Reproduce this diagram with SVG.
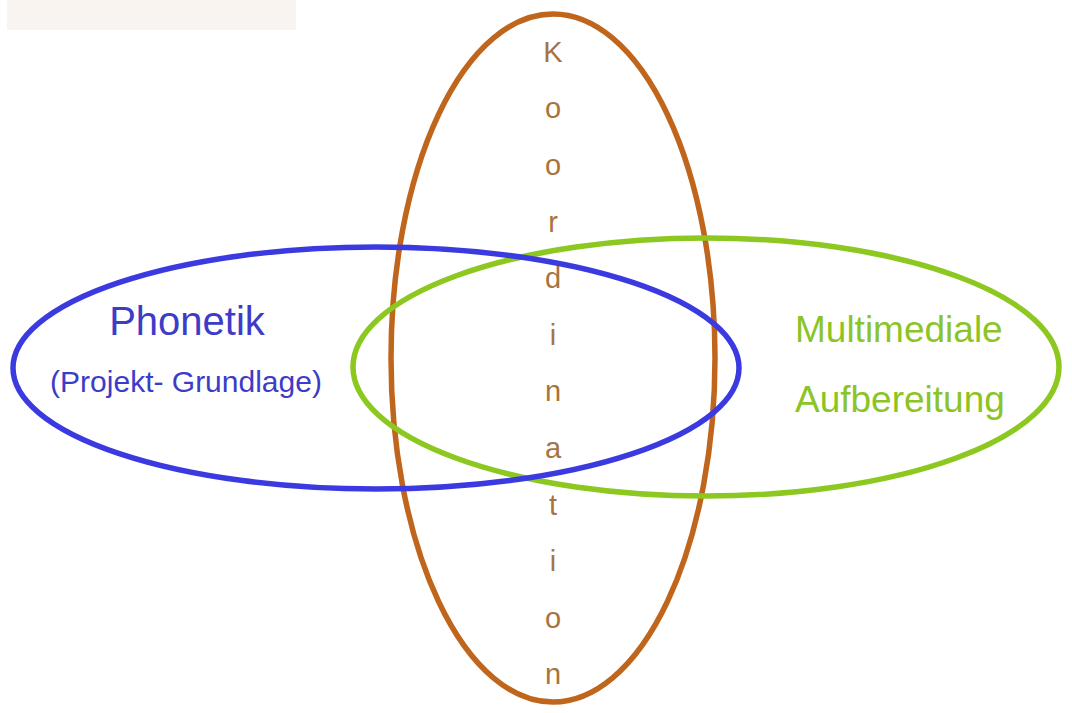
<svg xmlns="http://www.w3.org/2000/svg" width="1072" height="713" viewBox="0 0 1072 713">
<style>
.e{fill:none;stroke-width:5.5}
.k{font-family:"Liberation Sans",Arial,sans-serif;font-size:29px;fill:#a8733f;text-anchor:middle}
.ph{font-family:"Liberation Sans",Arial,sans-serif;fill:#3c3cc8;text-anchor:middle}
.mm{font-family:"Liberation Sans",Arial,sans-serif;font-size:37px;fill:#8cc428}
</style>
<rect width="1072" height="713" fill="#ffffff"/>
<rect x="7" y="0" width="289" height="30" fill="#faf4f1"/>
<g id="koordination">
<ellipse class="e" cx="553" cy="358" rx="162" ry="344" stroke="#c0661c"/>
<text class="k" x="553" y="62">K</text>
<text class="k" x="553" y="118">o</text>
<text class="k" x="553" y="175">o</text>
<text class="k" x="553" y="232">r</text>
<text class="k" x="553" y="288">d</text>
<text class="k" x="553" y="345">i</text>
<text class="k" x="553" y="401">n</text>
<text class="k" x="553" y="458">a</text>
<text class="k" x="553" y="515">t</text>
<text class="k" x="553" y="571">i</text>
<text class="k" x="553" y="628">o</text>
<text class="k" x="553" y="684">n</text>
</g>
<g id="multimedia">
<ellipse class="e" cx="706" cy="367" rx="353" ry="129" stroke="#8cc820"/>
<text class="mm" x="795" y="342">Multimediale</text>
<text class="mm" x="795" y="412">Aufbereitung</text>
</g>
<g id="phonetik">
<ellipse class="e" cx="376" cy="368" rx="363" ry="121" stroke="#3a3ae0"/>
<text class="ph" x="187" y="335" font-size="40">Phonetik</text>
<text class="ph" x="186" y="392" font-size="30">(Projekt- Grundlage)</text>
</g>
</svg>
